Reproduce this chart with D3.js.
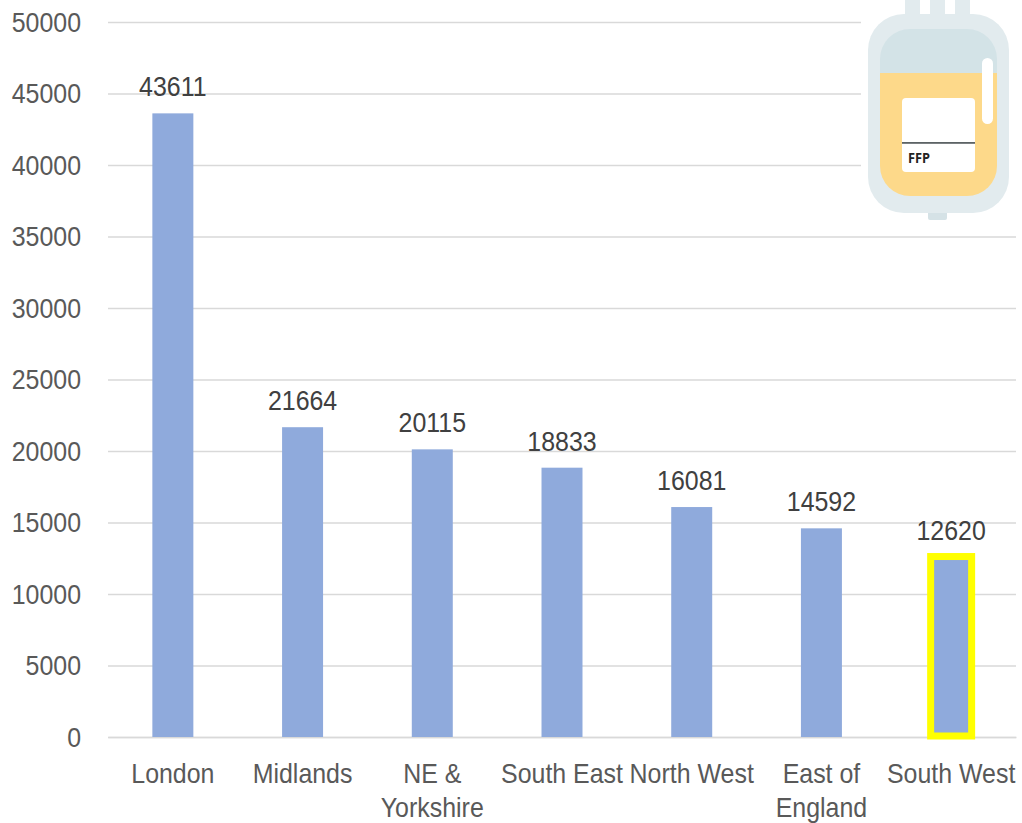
<!DOCTYPE html>
<html><head><meta charset="utf-8">
<script src="https://cdn.jsdelivr.net/npm/d3@7"></script>
<style>html,body{margin:0;padding:0;background:#fff}svg{display:block}text{font-family:"Liberation Sans",Arial,sans-serif}</style>
</head><body><div id="c"></div>
<script>
const regions = ["London","Midlands","NE & Yorkshire","South East","North West","East of England","South West"];
const regionLines = [["London"],["Midlands"],["NE &","Yorkshire"],["South East"],["North West"],["East of","England"],["South West"]];
const units = [43611,21664,20115,18833,16081,14592,12620];
const yTicks = [0,5000,10000,15000,20000,25000,30000,35000,40000,45000,50000];
const highlighted = ["South West"];
const W=1022,H=823,plotLeft=108,plotRight=1016,plotTop=22,plotBottom=737;
const svg=d3.select("#c").append("svg").attr("width",W).attr("height",H);
const x=d3.scaleBand().domain(regions).range([plotLeft,plotRight]).paddingInner(0.684).paddingOuter(0.342);
const y=d3.scaleLinear().domain([0,50000]).range([plotBottom,plotTop]);
const fs=27.4, squeeze=0.91;
// the reference's lettering is taller than it is wide: narrow each run of text
function narrow(sel){sel.each(function(){this.setAttribute("textLength",this.getComputedTextLength()*squeeze);this.setAttribute("lengthAdjust","spacingAndGlyphs");});}

const defs=svg.append("defs");
defs.append("filter").attr("id","soft").append("feGaussianBlur").attr("stdDeviation",0.5);

const gy=svg.append("g").attr("transform",`translate(${plotLeft},0)`)
 .call(d3.axisLeft(y).tickValues(yTicks).tickFormat(d3.format("d")).tickSize(-(plotRight-plotLeft)).tickPadding(27));
gy.select(".domain").remove();
gy.selectAll("line").attr("stroke","#d9d9d9").attr("stroke-width",1.6);
gy.selectAll("text").attr("fill","#595959").attr("font-size",fs).attr("dy","0.33em").call(narrow);

// picture sits on a white box that hides the gridline ends
svg.append("rect").attr("x",861).attr("y",0).attr("width",161).attr("height",226).attr("fill","#fff");
const icon=svg.append("g").attr("filter","url(#soft)");
icon.selectAll(".port").data([905,930,955]).join("rect").attr("class","port").attr("x",d=>d).attr("y",-3).attr("width",15).attr("height",23).attr("fill","#e2ebee");
icon.append("rect").attr("x",928).attr("y",205).attr("width",19).attr("height",15).attr("rx",2).attr("fill","#d5e2e6");
icon.append("rect").attr("x",868).attr("y",14).attr("width",141).attr("height",199).attr("rx",36).attr("fill","#e2ebee");
const clip=defs.append("clipPath").attr("id","bag");
clip.append("rect").attr("x",880).attr("y",29).attr("width",117).attr("height",167).attr("rx",30);
const inner=icon.append("g").attr("clip-path","url(#bag)");
inner.append("rect").attr("x",880).attr("y",29).attr("width",117).attr("height",44).attr("fill","#d3e3e7");
inner.append("rect").attr("x",880).attr("y",73).attr("width",117).attr("height",123).attr("fill","#fdd98a");
icon.append("rect").attr("x",902).attr("y",98).attr("width",73).attr("height",74).attr("rx",4).attr("fill","#fff");
icon.append("rect").attr("x",902).attr("y",142).attr("width",73).attr("height",1.8).attr("fill","#5c6365");
icon.append("rect").attr("x",982).attr("y",58).attr("width",11).attr("height",66).attr("rx",5.5).attr("fill","#fff");
svg.append("text").attr("x",908).attr("y",162.5).attr("font-size",13.5).attr("font-weight","bold").attr("fill","#222")
 .attr("textLength",22).attr("lengthAdjust","spacingAndGlyphs").style("font-family","'Open Sans',sans-serif").text("FFP");

const gx=svg.append("g").attr("transform",`translate(0,${plotBottom})`)
 .call(d3.axisBottom(x).tickSize(0).tickFormat(""));
gx.select(".domain").attr("stroke","#d9d9d9").attr("stroke-width",1.6);
gx.selectAll(".tick text").remove();
gx.selectAll(".tick").append("text").attr("text-anchor","middle").attr("fill","#595959").attr("font-size",fs)
 .each(function(d,i){
   d3.select(this).selectAll("tspan").data(regionLines[i]).join("tspan")
     .attr("x",0).attr("y",(l,j)=>46+j*34).text(l=>l).call(narrow);
 });

const data=regions.map((r,i)=>({r,v:units[i]}));
svg.selectAll(".bar").data(data).join("rect").attr("class","bar")
 .attr("x",d=>x(d.r)).attr("width",x.bandwidth()).attr("y",d=>y(d.v)).attr("height",d=>plotBottom-y(d.v)).attr("fill","#8faadc");
svg.selectAll(".hl").data(data.filter(d=>highlighted.includes(d.r))).join("rect").attr("class","hl")
 .attr("x",d=>x(d.r)).attr("width",x.bandwidth()).attr("y",d=>y(d.v)).attr("height",d=>plotBottom-1-y(d.v))
 .attr("fill","none").attr("stroke","#ffff00").attr("stroke-width",7);
svg.selectAll(".val").data(data).join("text").attr("class","val")
 .attr("x",d=>x(d.r)+x.bandwidth()/2).attr("y",d=>y(d.v)-17).attr("text-anchor","middle")
 .attr("fill","#404040").attr("font-size",fs).text(d=>d.v).call(narrow);
</script></body></html>
